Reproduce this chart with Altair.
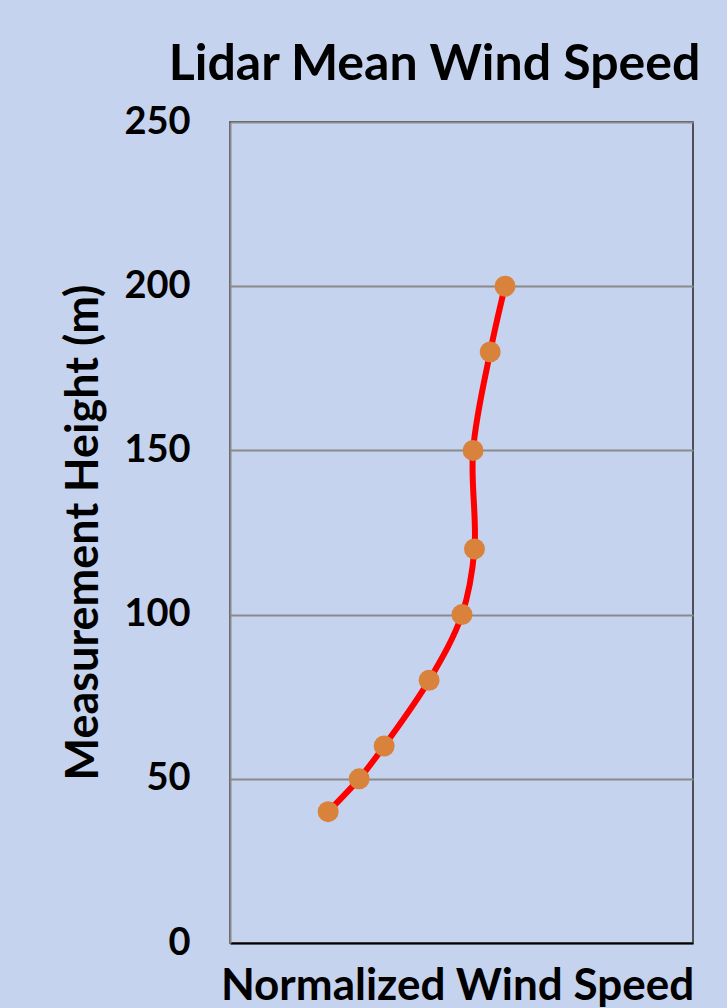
import altair as alt
import pandas as pd

heights = [40, 50, 60, 80, 100, 120, 150, 180, 200]
speeds = [0.212, 0.279, 0.333, 0.430, 0.501, 0.528, 0.525, 0.562, 0.594]
y_ticks = [0, 50, 100, 150, 200, 250]

df = pd.DataFrame({"speed": speeds, "height": heights})

FONT = "Lato"

x_enc = alt.X(
    "speed:Q",
    scale=alt.Scale(domain=[0, 1], nice=False, zero=False),
    axis=alt.Axis(
        title="Normalized Wind Speed",
        labels=False,
        ticks=False,
        grid=False,
        domainColor="#000000",
        domainWidth=2,
        titleFont=FONT,
        titleFontSize=44,
        titleFontWeight="bold",
        titleColor="#000000",
        titleX=227,
        titleY=56,
        titleAlign="center",
        titleBaseline="alphabetic",
    ),
)
y_enc = alt.Y(
    "height:Q",
    scale=alt.Scale(domain=[0, 250], nice=False),
    axis=alt.Axis(
        title="Measurement Height (m)",
        values=y_ticks,
        ticks=False,
        grid=True,
        gridColor="#8a8a8a",
        gridWidth=2,
        domainColor="#898989",
        domainWidth=2,
        labelFont=FONT,
        labelFontSize=38,
        labelFontWeight="bold",
        labelColor="#000000",
        labelPadding=40,
        titleFont=FONT,
        titleFontSize=45,
        titleFontWeight="bold",
        titleColor="#000000",
        titleX=-147,
        titleY=410,
        titleAngle=270,
        titleAlign="center",
        titleBaseline="middle",
    ),
)

line = alt.Chart(df).mark_line(
    color="#ff0000", strokeWidth=6, interpolate="catmull-rom"
).encode(x=x_enc, y=y_enc, order=alt.Order("height:Q"))

points = alt.Chart(df).mark_point(
    filled=True, shape="circle", size=440, color="#d9823b", opacity=1
).encode(x="speed:Q", y="height:Q")

chart = alt.layer(line, points).properties(
    width=463,
    height=821,
    autosize=alt.AutoSizeParams(type="none"),
    padding={"left": 230, "top": 122, "right": 34, "bottom": 65},
    title=alt.TitleParams(
        text="Lidar Mean Wind Speed",
        font=FONT,
        fontSize=50,
        fontWeight="bold",
        color="#000000",
        anchor="middle",
        dx=-27,
        offset=13,
    ),
).configure(background="#c5d3ee").configure_view(
    stroke="#262626", strokeWidth=1.5
)

chart.save("out.html", embed_options={"renderer": "svg", "actions": False})
